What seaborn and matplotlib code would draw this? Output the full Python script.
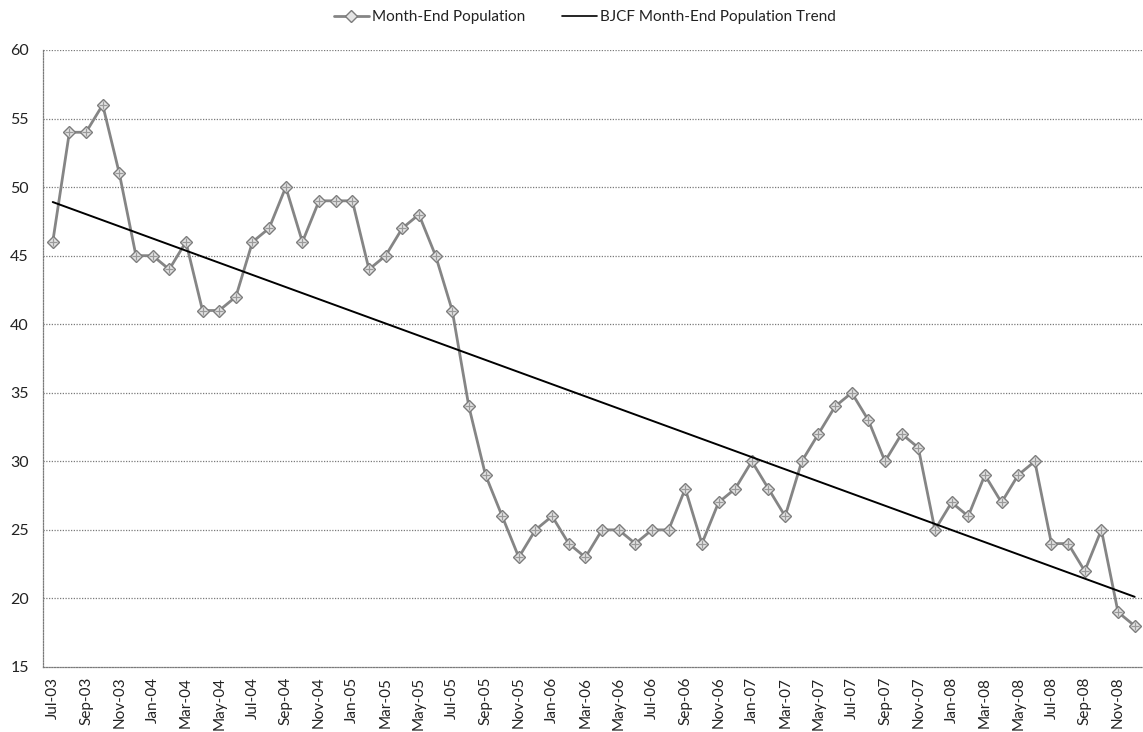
import numpy as np
import pandas as pd
import matplotlib
matplotlib.use("Agg")
import matplotlib.pyplot as plt
from matplotlib.lines import Line2D
import seaborn as sns

# Month-end population, Jul 2003 through Dec 2008
months = pd.date_range("2003-07-01", periods=66, freq="MS").strftime("%b-%y").tolist()
population = [
    46, 54, 54, 56, 51, 45, 45, 44, 46, 41,
    41, 42, 46, 47, 50, 46, 49, 49, 49, 44,
    45, 47, 48, 45, 41, 34, 29, 26, 23, 25,
    26, 24, 23, 25, 25, 24, 25, 25, 28, 24,
    27, 28, 30, 28, 26, 30, 32, 34, 35, 33,
    30, 32, 31, 25, 27, 26, 29, 27, 29, 30,
    24, 24, 22, 25, 19, 18,
]
y_ticks = [15, 20, 25, 30, 35, 40, 45, 50, 55, 60]
series_label = "Month-End Population"
trend_label = "BJCF Month-End Population Trend"

sns.set_style("white")
plt.rcParams["font.family"] = ["Lato", "DejaVu Sans"]

df = pd.DataFrame({"idx": np.arange(len(population)), "pop": population})

fig = plt.figure(figsize=(11.43, 7.32), dpi=100)
ax = fig.add_axes([0.0374, 0.0888, 0.9626, 0.8429])

grey = "#858585"
sns.lineplot(data=df, x="idx", y="pop", ax=ax, color=grey, lw=2.0,
             marker="D", markersize=6.5, markerfacecolor="#e4e4e4",
             markeredgecolor="#7c7c7c", markeredgewidth=1.0, legend=False)
sns.scatterplot(data=df, x="idx", y="pop", ax=ax, marker="+", s=36,
                color="#9a9a9a", linewidth=0.9, legend=False, zorder=4)

# linear trend fitted by seaborn
sns.regplot(data=df, x="idx", y="pop", ax=ax, scatter=False, ci=None,
            truncate=True, line_kws=dict(color="black", lw=1.4, zorder=5))

ax.set_xlim(-0.6, 65.3)
ax.set_ylim(15, 60)
ax.set_yticks(y_ticks)
ax.set_yticklabels([str(v) for v in y_ticks])
ax.set_xticks(np.arange(0, len(months), 2))
ax.set_xticklabels(months[::2], rotation=90)
ax.set_xticks(np.arange(-0.5, len(months), 2), minor=True)
ax.set_xlabel("")
ax.set_ylabel("")

ax.tick_params(axis="x", which="major", length=0, pad=7, labelsize=11, colors="#222222")
ax.tick_params(axis="x", which="minor", length=4, width=0.8, color="#888888", direction="out")
ax.tick_params(axis="y", length=0, pad=10, labelsize=11.5, colors="#222222")

ax.grid(False)
for v in y_ticks[1:]:
    ax.axhline(v, color="#7a7a7a", lw=0.9, ls=(0, (1, 1.2)), zorder=0)

for side in ["top", "right"]:
    ax.spines[side].set_visible(False)
for side in ["left", "bottom"]:
    ax.spines[side].set_color("#7a7a7a")
    ax.spines[side].set_linewidth(0.9)
    ax.spines[side].set_linestyle((0, (1, 1.2)))

handles = [
    Line2D([], [], color=grey, lw=2.0, marker="D", markersize=6,
           markerfacecolor="#e4e4e4", markeredgecolor="#7c7c7c"),
    Line2D([], [], color="black", lw=1.2),
]
fig.legend(handles, [series_label, trend_label], loc="center",
           bbox_to_anchor=(585 / 1143, 1 - 17 / 732), ncol=2, frameon=False,
           fontsize=11, handlelength=2.3, handletextpad=0.2, columnspacing=2.4,
           labelcolor="#222222")

fig.savefig("out.png", dpi=100)
